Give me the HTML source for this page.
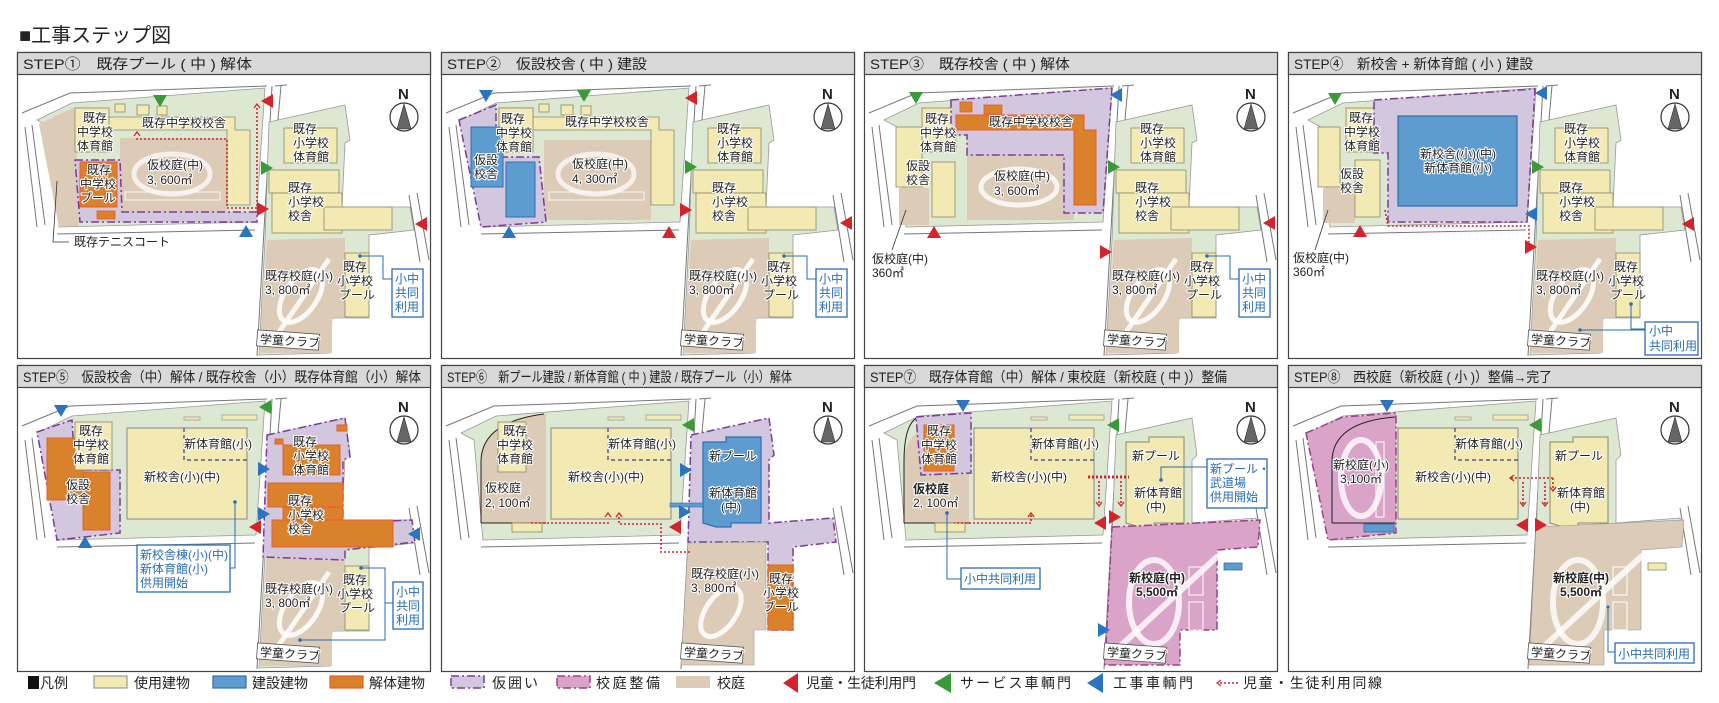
<!DOCTYPE html>
<html><head><meta charset="utf-8">
<style>
html,body{margin:0;padding:0;background:#fff;}
svg{display:block;}
text{font-family:"Liberation Sans","Noto Sans CJK JP",sans-serif;}
.l{font-size:12px;fill:#222;paint-order:stroke;stroke:#fff;stroke-width:2.2px;stroke-linejoin:round;}
.b{font-weight:bold;}
.bx{font-size:12px;fill:#2a6db5;}
.h{font-size:14px;fill:#222;}
.lg{font-size:14px;fill:#222;}
</style></head><body>
<svg width="1719" height="703" viewBox="0 0 1719 703" xmlns="http://www.w3.org/2000/svg">
<defs>
 <g id="roads" fill="none" stroke="#777" stroke-width="1">
  <polyline points="5,39 53,19 250,12"/>
  <polyline points="258,12 270,11"/>
  <polyline points="8,53 20,153"/>
  <polyline points="15,51 28,151"/>
  <polyline points="40,160 238,156"/>
  <polyline points="255,12 240,282"/>
  <polyline points="264,12 250,168"/>
  <polyline points="392,121 403,188"/>
  <polyline points="400,119 412,186"/>
 </g>
 <polygon id="msg" points="20,46 55,29 248,14 239,148 42,153 33,53" fill="#dde8d2" stroke="#999" stroke-width="0.8"/>
 <g id="esg">
  <polygon points="252,48 328,31 333,66 328,69 325,133 393,133 397,156 352,161 352,244 315,244 313,279 242,281 248,166" fill="#dde8d2" stroke="#999" stroke-width="0.8"/>
 </g>
 <g id="esb" fill="#f2e9b3" stroke="#8a8a6a" stroke-width="0.8">
  <rect x="267" y="54" width="53" height="35"/>
  <rect x="252" y="96" width="70" height="23"/>
  <rect x="255" y="119" width="70" height="40"/>
  <rect x="307" y="133" width="68" height="23"/>
 </g>
 <g id="esfield">
  <polygon points="250,166 328,164 328,243 315,243 315,279 242,279" fill="#dccbb7"/>
  <ellipse cx="284" cy="222" rx="16" ry="30" transform="rotate(35 284 222)" fill="none" stroke="#fff" stroke-width="5" opacity="0.85"/>
  <line x1="262" y1="258" x2="312" y2="185" stroke="#fff" stroke-width="5" opacity="0.85"/>
 </g>
 <rect id="espool" x="328" y="179" width="24" height="64" fill="#f2e9b3" stroke="#8a8a6a" stroke-width="0.8"/>
 <g id="club">
  <rect x="240" y="258" width="62" height="16" fill="#fff" stroke="#555" stroke-width="0.8" transform="rotate(4 270 266)"/>
  <text x="243" y="271" class="l" transform="rotate(4 270 266)">学童クラブ</text>
 </g>
 <g id="compass">
  <text x="381" y="25" font-size="15" font-weight="bold" fill="#222">N</text>
  <circle cx="387" cy="43" r="14" fill="#fff" stroke="#333" stroke-width="1.2"/>
  <polygon points="387,30 380,55 394,55" fill="#666" stroke="#333" stroke-width="0.6"/>
 </g>
 <g id="msold" fill="#f2e9b3" stroke="#8a8a6a" stroke-width="0.8">
  <polygon points="90,43 218,43 218,56 233,56 233,131 210,131 210,56 90,56"/>
  <rect x="58" y="34" width="34" height="44"/>
  <rect x="98" y="30" width="10" height="8"/><rect x="120" y="31" width="12" height="10"/><rect x="140" y="32" width="10" height="9"/>
 </g>
 <g id="newb">
  <rect x="110" y="41" width="120" height="91" fill="#f2e9b3" stroke="#888" stroke-width="1"/>
  <polyline points="167,41 167,73 230,73" fill="none" stroke="#3a3f7a" stroke-width="1.2" stroke-dasharray="4,3"/>
  <rect x="167" y="30" width="16" height="3" fill="#f2e9b3" stroke="#888" stroke-width="0.6"/>
  <rect x="205" y="28" width="35" height="5" fill="#f2e9b3" stroke="#888" stroke-width="0.6"/>
 </g>
 <g id="eslabels">
  <text x="276" y="59" class="l">既存</text><text x="276" y="73" class="l">小学校</text><text x="276" y="87" class="l">体育館</text>
  <text x="271" y="118" class="l">既存</text><text x="271" y="132" class="l">小学校</text><text x="271" y="146" class="l">校舎</text>
 </g>
 <g id="esfl">
  <text x="248" y="206" class="l">既存校庭(小)</text><text x="248" y="220" class="l">3, 800㎡</text>
  <text x="326" y="197" class="l">既存</text><text x="320" y="211" class="l">小学校</text><text x="322" y="225" class="l">プール</text>
 </g>
 <g id="boxv">
  <polyline points="343,182 366,182 366,205 375,205" fill="none" stroke="#2a6db5" stroke-width="1"/>
  <circle cx="343" cy="182" r="1.8" fill="#2a6db5"/>
  <rect x="375" y="195" width="31" height="48" fill="#fff" stroke="#2a6db5" stroke-width="1.3"/>
  <text x="378" y="209" class="bx">小中</text><text x="378" y="223" class="bx">共同</text><text x="378" y="237" class="bx">利用</text>
 </g>
 <g id="track">
  <ellipse cx="155" cy="100" rx="38" ry="20" fill="none" stroke="#fff" stroke-width="5" opacity="0.7"/>
  <rect x="108" y="118" width="95" height="8" fill="none" stroke="#fff" stroke-width="1" opacity="0.8"/>
 </g>
</defs>

<text x="19" y="42" font-size="20" fill="#222">■工事ステップ図</text>

<!-- panel frames -->
<g fill="#fff" stroke="#444" stroke-width="1.2">
 <rect x="17.5" y="52.5" width="413" height="306"/><rect x="441.5" y="52.5" width="413" height="306"/>
 <rect x="864.5" y="52.5" width="413" height="306"/><rect x="1288.5" y="52.5" width="413" height="306"/>
 <rect x="17.5" y="365.5" width="413" height="306"/><rect x="441.5" y="365.5" width="413" height="306"/>
 <rect x="864.5" y="365.5" width="413" height="306"/><rect x="1288.5" y="365.5" width="413" height="306"/>
</g>
<g fill="#d9d9d9" stroke="#444" stroke-width="1.2">
 <rect x="17.5" y="52.5" width="413" height="22"/><rect x="441.5" y="52.5" width="413" height="22"/>
 <rect x="864.5" y="52.5" width="413" height="22"/><rect x="1288.5" y="52.5" width="413" height="22"/>
 <rect x="17.5" y="365.5" width="413" height="22"/><rect x="441.5" y="365.5" width="413" height="22"/>
 <rect x="864.5" y="365.5" width="413" height="22"/><rect x="1288.5" y="365.5" width="413" height="22"/>
</g>
<text x="23" y="69" class="h" textLength="229" lengthAdjust="spacingAndGlyphs">STEP①　既存プール ( 中 ) 解体</text>
<text x="447" y="69" class="h" textLength="200" lengthAdjust="spacingAndGlyphs">STEP②　仮設校舎 ( 中 ) 建設</text>
<text x="870" y="69" class="h" textLength="200" lengthAdjust="spacingAndGlyphs">STEP③　既存校舎 ( 中 ) 解体</text>
<text x="1294" y="69" class="h" textLength="239" lengthAdjust="spacingAndGlyphs">STEP④　新校舎 + 新体育館 ( 小 ) 建設</text>
<text x="23" y="382" class="h" textLength="398" lengthAdjust="spacingAndGlyphs">STEP⑤　仮設校舎（中）解体 / 既存校舎（小）既存体育館（小）解体</text>
<text x="447" y="382" class="h" textLength="345" lengthAdjust="spacingAndGlyphs">STEP⑥　新プール建設 / 新体育館 ( 中 ) 建設 / 既存プール（小）解体</text>
<text x="870" y="382" class="h" textLength="357" lengthAdjust="spacingAndGlyphs">STEP⑦　既存体育館（中）解体 / 東校庭（新校庭 ( 中 )）整備</text>
<text x="1294" y="382" class="h" textLength="258" lengthAdjust="spacingAndGlyphs">STEP⑧　西校庭（新校庭 ( 小 )）整備→完了</text>

<!-- ===== STEP 1 ===== -->
<g transform="translate(17,74)">
 <use href="#msg"/>
 <polygon points="22,50 58,33 62,152 42,153" fill="#dccbb7"/>
 <rect x="103" y="64" width="107" height="74" fill="#dccbb7"/>
 <use href="#track"/>
 <use href="#msold"/>
 <polygon points="58,86 103,86 105,138 240,138 240,148 63,148" fill="#d3c6df" stroke="#7d3a97" stroke-width="1.5" stroke-dasharray="8,3,2,3"/>
 <rect x="63" y="88" width="37" height="45" fill="#d9822b" stroke="#e85c2b" stroke-width="1"/>
 <rect x="80" y="137" width="18" height="8" fill="#d9822b" stroke="#e85c2b" stroke-width="0.8"/>
 <polyline points="120,64 120,65 210,65 210,134 240,134 240,32" fill="none" stroke="#d4242b" stroke-width="1.6" stroke-dasharray="2,2"/>
 <polyline points="117,62 120,58 123,62" fill="none" stroke="#d4242b" stroke-width="1.3"/>
 <polyline points="237,34 240,30 243,34" fill="none" stroke="#d4242b" stroke-width="1.3"/>
 <use href="#roads"/><use href="#esg"/><use href="#esb"/><use href="#esfield"/><use href="#espool"/><use href="#club"/><use href="#compass"/>
 <polyline points="40,107 36,168 52,168" fill="none" stroke="#333" stroke-width="0.8"/>
 <text x="57" y="172" class="l">既存テニスコート</text>
 <text x="66" y="48" class="l">既存</text><text x="60" y="62" class="l">中学校</text><text x="60" y="76" class="l">体育館</text>
 <text x="125" y="53" class="l">既存中学校校舎</text>
 <text x="70" y="100" class="l">既存</text><text x="63" y="114" class="l">中学校</text><text x="63" y="128" class="l">プール</text>
 <text x="130" y="95" class="l">仮校庭(中)</text><text x="130" y="110" class="l">3, 600㎡</text>
 <use href="#eslabels"/><use href="#esfl"/><use href="#boxv"/>
 <polygon points="136,21 150,21 143,33" fill="#3a9a3a"/>
 <polygon points="256,20 256,34 244,27" fill="#d4242b"/>
 <polygon points="244,87 244,101 256,94" fill="#3a9a3a"/>
 <polygon points="240,128 240,142 252,135" fill="#d4242b"/>
 <polygon points="222,163 236,163 229,151" fill="#2a74c0"/>
 <polygon points="410,143 410,157 398,150" fill="#d4242b"/>
</g>

<!-- ===== STEP 2 ===== -->
<g transform="translate(441,74)">
 <use href="#msg"/>
 <rect x="103" y="66" width="107" height="80" fill="#dccbb7"/>
 <use href="#track"/>
 <use href="#msold"/>
 <polygon points="18,46 55,31 55,83 98,83 105,148 40,153" fill="#d3c6df" stroke="#7d3a97" stroke-width="1.5" stroke-dasharray="8,3,2,3"/>
 <rect x="58" y="34" width="34" height="44" fill="#f2e9b3" stroke="#8a8a6a" stroke-width="0.8"/>
 <rect x="30" y="53" width="32" height="60" fill="#5e9ccf" stroke="#2f6fb0" stroke-width="1"/>
 <rect x="65" y="88" width="29" height="55" fill="#5e9ccf" stroke="#2f6fb0" stroke-width="1"/>
 <use href="#roads"/><use href="#esg"/><use href="#esb"/><use href="#esfield"/><use href="#espool"/><use href="#club"/><use href="#compass"/>
 <text x="60" y="49" class="l">既存</text><text x="55" y="63" class="l">中学校</text><text x="55" y="77" class="l">体育館</text>
 <text x="124" y="52" class="l">既存中学校校舎</text>
 <text x="33" y="90" class="l">仮設</text><text x="33" y="104" class="l">校舎</text>
 <text x="131" y="94" class="l">仮校庭(中)</text><text x="131" y="109" class="l">4, 300㎡</text>
 <use href="#eslabels"/><use href="#esfl"/><use href="#boxv"/>
 <polygon points="38,16 52,16 45,28" fill="#2a74c0"/>
 <polygon points="136,16 150,16 143,28" fill="#3a9a3a"/>
 <polygon points="256,17 256,31 244,24" fill="#d4242b"/>
 <polygon points="244,86 244,100 256,93" fill="#3a9a3a"/>
 <polygon points="239,129 239,143 251,136" fill="#d4242b"/>
 <polygon points="61,164 75,164 68,152" fill="#2a74c0"/>
 <polygon points="221,164 235,164 228,152" fill="#d4242b"/>
 <polygon points="411,142 411,156 399,149" fill="#d4242b"/>
</g>

<!-- ===== STEP 3 ===== -->
<g transform="translate(864,74)">
 <use href="#msg"/>
 <rect x="103" y="81" width="107" height="65" fill="#dccbb7"/>
 <ellipse cx="155" cy="113" rx="38" ry="18" fill="none" stroke="#fff" stroke-width="5" opacity="0.8"/>
 <rect x="35" y="114" width="30" height="37" fill="#dccbb7"/>
 <rect x="32" y="53" width="26" height="60" fill="#f2e9b3" stroke="#8a8a6a" stroke-width="0.8"/>
 <rect x="68" y="88" width="23" height="55" fill="#f2e9b3" stroke="#8a8a6a" stroke-width="0.8"/>
 <rect x="58" y="34" width="34" height="44" fill="#f2e9b3" stroke="#8a8a6a" stroke-width="0.8"/>
 <polygon points="87,26 248,14 239,139 200,139 200,81 103,81 103,61 87,61" fill="#d3c6df" stroke="#7d3a97" stroke-width="1.5" stroke-dasharray="8,3,2,3"/>
 <polygon points="92,41 220,41 220,56 232,56 232,131 210,131 210,56 92,56" fill="#d9822b" stroke="#e85c2b" stroke-width="1"/>
 <rect x="96" y="28" width="12" height="10" fill="#d9822b" stroke="#e85c2b" stroke-width="0.8"/>
 <rect x="120" y="31" width="18" height="9" fill="#d9822b" stroke="#e85c2b" stroke-width="0.8"/>
 <use href="#roads"/><use href="#esg"/><use href="#esb"/><use href="#esfield"/><use href="#espool"/><use href="#club"/><use href="#compass"/>
 <text x="61" y="49" class="l">既存</text><text x="56" y="63" class="l">中学校</text><text x="56" y="77" class="l">体育館</text>
 <text x="125" y="52" class="l">既存中学校校舎</text>
 <text x="42" y="96" class="l">仮設</text><text x="42" y="110" class="l">校舎</text>
 <text x="130" y="106" class="l">仮校庭(中)</text><text x="130" y="121" class="l">3, 600㎡</text>
 <line x1="42" y1="136" x2="28" y2="176" stroke="#333" stroke-width="0.8"/>
 <text x="8" y="189" class="l">仮校庭(中)</text><text x="8" y="203" class="l">360㎡</text>
 <use href="#eslabels"/><use href="#esfl"/><use href="#boxv"/>
 <polygon points="45,18 59,18 52,30" fill="#3a9a3a"/>
 <polygon points="258,14 258,28 246,21" fill="#2a74c0"/>
 <polygon points="244,86 244,100 256,93" fill="#3a9a3a"/>
 <polygon points="63,164 77,164 70,152" fill="#d4242b"/>
 <polygon points="236,171 236,185 248,178" fill="#d4242b"/>
 <polygon points="411,142 411,156 399,149" fill="#d4242b"/>
</g>

<!-- ===== STEP 4 ===== -->
<g transform="translate(1288,74)">
 <use href="#msg"/>
 <rect x="35" y="114" width="32" height="35" fill="#dccbb7"/>
 <rect x="30" y="53" width="22" height="60" fill="#f2e9b3" stroke="#8a8a6a" stroke-width="0.8"/>
 <rect x="67" y="86" width="25" height="57" fill="#f2e9b3" stroke="#8a8a6a" stroke-width="0.8"/>
 <rect x="58" y="34" width="34" height="44" fill="#f2e9b3" stroke="#8a8a6a" stroke-width="0.8"/>
 <polygon points="86,26 247,15 239,148 100,148 100,79 86,79" fill="#d3c6df" stroke="#7d3a97" stroke-width="1.5" stroke-dasharray="8,3,2,3"/>
 <rect x="110" y="42" width="119" height="90" fill="#5e9ccf" stroke="#2f6fb0" stroke-width="1.2"/>
 <use href="#roads"/><use href="#esg"/><use href="#esb"/><use href="#esfield"/><use href="#espool"/><use href="#club"/><use href="#compass"/>
 <polyline points="97,136 100,152 241,152 241,168" fill="none" stroke="#d4242b" stroke-width="1.6" stroke-dasharray="2,2"/>
 <text x="61" y="48" class="l">既存</text><text x="56" y="62" class="l">中学校</text><text x="56" y="76" class="l">体育館</text>
 <text x="52" y="104" class="l">仮設</text><text x="52" y="118" class="l">校舎</text>
 <text x="170" y="84" class="l" text-anchor="middle">新校舎(小)(中)</text><text x="170" y="98" class="l" text-anchor="middle">新体育館(小)</text>
 <line x1="40" y1="136" x2="27" y2="176" stroke="#333" stroke-width="0.8"/>
 <text x="5" y="188" class="l">仮校庭(中)</text><text x="5" y="202" class="l">360㎡</text>
 <use href="#eslabels"/><use href="#esfl"/>
 <polyline points="343,230 343,255 357,255" fill="none" stroke="#2a6db5" stroke-width="1"/>
 <polyline points="292,256 357,256" fill="none" stroke="#2a6db5" stroke-width="1"/>
 <circle cx="343" cy="230" r="1.8" fill="#2a6db5"/><circle cx="292" cy="256" r="1.8" fill="#2a6db5"/>
 <rect x="357" y="248" width="53" height="33" fill="#fff" stroke="#2a6db5" stroke-width="1.3"/>
 <text x="361" y="261" class="bx">小中</text><text x="361" y="276" class="bx">共同利用</text>
 <polygon points="40,19 54,19 47,31" fill="#3a9a3a"/>
 <polygon points="259,12 259,26 247,19" fill="#2a74c0"/>
 <polygon points="244,86 244,100 256,93" fill="#3a9a3a"/>
 <polygon points="249,133 249,147 237,140" fill="#2a74c0"/>
 <polygon points="65,163 79,163 72,151" fill="#d4242b"/>
 <polygon points="237,166 237,180 249,173" fill="#d4242b"/>
 <polygon points="406,143 406,157 394,150" fill="#d4242b"/>
</g>

<!-- ===== STEP 5 ===== -->
<g transform="translate(17,387)">
 <use href="#msg"/>
 <polygon points="20,45 55,33 58,83 103,83 103,146 40,153" fill="#d3c6df" stroke="#7d3a97" stroke-width="1.5" stroke-dasharray="8,3,2,3"/>
 <rect x="30" y="51" width="36" height="62" fill="#d9822b" stroke="#e85c2b" stroke-width="1"/>
 <rect x="66" y="85" width="27" height="58" fill="#d9822b" stroke="#e85c2b" stroke-width="1"/>
 <rect x="58" y="35" width="37" height="48" fill="#f2e9b3" stroke="#8a8a6a" stroke-width="0.8"/>
 <use href="#newb"/>
 <use href="#roads"/><use href="#esg"/><use href="#esfield"/><use href="#espool"/><use href="#club"/><use href="#compass"/>
 <polygon points="250,48 328,31 333,70 326,73 326,136 395,133 398,155 328,163 328,173 246,170" fill="#d3c6df" stroke="#7d3a97" stroke-width="1.5" stroke-dasharray="8,3,2,3"/>
 <g fill="#d9822b" stroke="#e85c2b" stroke-width="1">
  <rect x="266" y="58" width="57" height="30"/><rect x="251" y="96" width="75" height="24"/>
  <rect x="266" y="120" width="60" height="13"/><rect x="255" y="133" width="121" height="27"/>
  <rect x="320" y="38" width="10" height="6"/><rect x="258" y="52" width="8" height="5"/>
 </g>
 <text x="62" y="48" class="l">既存</text><text x="56" y="62" class="l">中学校</text><text x="56" y="76" class="l">体育館</text>
 <text x="49" y="102" class="l">仮設</text><text x="49" y="116" class="l">校舎</text>
 <text x="167" y="61" class="l">新体育館(小)</text>
 <text x="127" y="94" class="l">新校舎(小)(中)</text>
 <polyline points="218,115 218,181 213,181" fill="none" stroke="#2a6db5" stroke-width="1"/>
 <circle cx="218" cy="115" r="1.8" fill="#2a6db5"/>
 <rect x="120" y="158" width="93" height="47" fill="#fff" stroke="#2a6db5" stroke-width="1.3"/>
 <text x="123" y="172" class="bx">新校舎棟(小)(中)</text><text x="123" y="186" class="bx">新体育館(小)</text><text x="123" y="200" class="bx">供用開始</text>
 <use href="#eslabels"/><use href="#esfl"/>
 <polyline points="344,181 368,181 368,253 283,253" fill="none" stroke="#2a6db5" stroke-width="1"/>
 <line x1="368" y1="216" x2="376" y2="216" stroke="#2a6db5" stroke-width="1"/>
 <circle cx="344" cy="181" r="1.8" fill="#2a6db5"/><circle cx="283" cy="253" r="1.8" fill="#2a6db5"/>
 <rect x="376" y="195" width="30" height="47" fill="#fff" stroke="#2a6db5" stroke-width="1.3"/>
 <text x="379" y="209" class="bx">小中</text><text x="379" y="223" class="bx">共同</text><text x="379" y="237" class="bx">利用</text>
 <polygon points="37,18 51,18 44,30" fill="#2a74c0"/>
 <polygon points="254,13 254,27 242,20" fill="#3a9a3a"/>
 <polygon points="241,75 241,89 253,82" fill="#2a74c0"/>
 <polygon points="241,120 241,134 253,127" fill="#2a74c0"/>
 <polygon points="244,133 244,147 232,140" fill="#d4242b"/>
 <polygon points="61,161 75,161 68,149" fill="#2a74c0"/>
 <polygon points="403,140 403,154 391,147" fill="#2a74c0"/>
</g>

<!-- ===== STEP 6 ===== -->
<g transform="translate(441,387)">
 <use href="#msg"/>
 <path d="M40,136 L40,75 Q40,35 103,27 L105,27 L105,136 Z" fill="#dccbb7"/>
 <path d="M40,136 L40,75 Q40,35 103,27" fill="none" stroke="#222" stroke-width="1"/>
 <line x1="40" y1="136" x2="105" y2="136" stroke="#222" stroke-width="1"/>
 <rect x="57" y="35" width="28" height="50" fill="#f2e9b3" stroke="#8a8a6a" stroke-width="0.8"/>
 <rect x="71" y="136" width="30" height="9" fill="#f2e9b3" stroke="#8a8a6a" stroke-width="0.8"/>
 <use href="#newb"/>
 <use href="#roads"/>
 <polygon points="250,48 328,31 333,68 328,73 328,136 392,131 395,155 352,160 352,243 327,243 327,155 247,155" fill="#d3c6df" stroke="#7d3a97" stroke-width="1.5" stroke-dasharray="8,3,2,3"/>
 <polygon points="247,156 325,155 325,243 313,243 313,278 240,278" fill="#dccbb7" stroke="#999" stroke-width="0.6"/>
 <ellipse cx="280" cy="225" rx="15" ry="28" transform="rotate(35 280 225)" fill="none" stroke="#fff" stroke-width="5" opacity="0.85"/>
 <polygon points="262,55 285,55 285,50 320,50 320,136 290,136 290,140 275,140 262,136" fill="#5e9ccf" stroke="#2f6fb0" stroke-width="1.2"/>
 <rect x="229" y="116" width="33" height="4" fill="#5e9ccf" stroke="#2f6fb0" stroke-width="0.6"/>
 <rect x="327" y="178" width="25" height="65" fill="#d9822b" stroke="#e85c2b" stroke-width="1"/>
 <use href="#club"/><use href="#compass"/>
 <polyline points="90,136 168,136" fill="none" stroke="#d4242b" stroke-width="1.6" stroke-dasharray="2,2"/>
 <polyline points="178,130 178,137 220,137 220,165 250,165" fill="none" stroke="#d4242b" stroke-width="1.6" stroke-dasharray="2,2"/>
 <polyline points="164,130 167,126 170,130" fill="none" stroke="#d4242b" stroke-width="1.3"/>
 <polyline points="175,130 178,126 181,130" fill="none" stroke="#d4242b" stroke-width="1.3"/>
 <text x="62" y="48" class="l">既存</text><text x="56" y="62" class="l">中学校</text><text x="56" y="76" class="l">体育館</text>
 <text x="44" y="105" class="l">仮校庭</text><text x="44" y="120" class="l">2, 100㎡</text>
 <text x="167" y="61" class="l">新体育館(小)</text>
 <text x="127" y="94" class="l">新校舎(小)(中)</text>
 <text x="268" y="73" class="l">新プール</text><text x="268" y="110" class="l">新体育館</text><text x="280" y="124" class="l">(中)</text>
 <text x="250" y="191" class="l">既存校庭(小)</text><text x="250" y="205" class="l">3, 800㎡</text>
 <text x="328" y="196" class="l">既存</text><text x="322" y="210" class="l">小学校</text><text x="322" y="224" class="l">プール</text>
 <polygon points="253,31 253,45 241,38" fill="#3a9a3a"/>
 <polygon points="239,76 239,90 251,83" fill="#2a74c0"/>
 <polygon points="238,118 238,132 250,125" fill="#2a74c0"/>
 <polygon points="240,133 240,147 228,140" fill="#d4242b"/>
</g>

<!-- ===== STEP 7 ===== -->
<g transform="translate(864,387)">
 <use href="#msg"/>
 <path d="M40,136 L40,75 Q40,35 103,27 L105,27 L105,136 Z" fill="#dccbb7"/>
 <path d="M40,136 L40,75 Q40,35 55,30" fill="none" stroke="#222" stroke-width="1"/>
 <line x1="40" y1="136" x2="105" y2="136" stroke="#222" stroke-width="1"/>
 <polygon points="52,30 107,26 107,86 57,88" fill="#d3c6df" stroke="#7d3a97" stroke-width="1.5" stroke-dasharray="8,3,2,3"/>
 <rect x="60" y="38" width="30" height="46" fill="#d9822b" stroke="#e85c2b" stroke-width="1"/>
 <rect x="71" y="136" width="30" height="9" fill="#f2e9b3" stroke="#8a8a6a" stroke-width="0.8"/>
 <use href="#newb"/>
 <use href="#roads"/>
 <polygon points="252,48 328,31 333,68 328,73 328,136 392,131 395,150 248,150" fill="#dde8d2" stroke="#999" stroke-width="0.8"/>
 <polygon points="262,55 285,55 285,50 320,50 320,136 290,136 290,140 275,140 262,136" fill="#f2e9b3" stroke="#8a8a6a" stroke-width="1"/>
 <polygon points="248,140 396,133 394,160 353,163 353,243 316,243 316,278 241,278" fill="#d9a4c8" stroke="#9c3f8e" stroke-width="1.5" stroke-dasharray="8,3,2,3"/>
 <ellipse cx="290" cy="215" rx="25" ry="42" fill="none" stroke="#fff" stroke-width="6" opacity="0.8"/>
 <line x1="250" y1="265" x2="355" y2="168" stroke="#fff" stroke-width="6" opacity="0.8"/>
 <rect x="325" y="180" width="14" height="28" fill="none" stroke="#fff" stroke-width="1"/>
 <rect x="325" y="215" width="14" height="28" fill="none" stroke="#fff" stroke-width="1"/>
 <rect x="360" y="176" width="18" height="7" fill="#5e9ccf" stroke="#2f6fb0" stroke-width="0.8"/>
 <use href="#club"/><use href="#compass"/>
 <line x1="224" y1="90" x2="265" y2="90" stroke="#d4242b" stroke-width="3" stroke-dasharray="2,2"/>
 <polyline points="235,94 235,118" fill="none" stroke="#d4242b" stroke-width="1.6" stroke-dasharray="2,2"/>
 <polyline points="257,94 257,118" fill="none" stroke="#d4242b" stroke-width="1.6" stroke-dasharray="2,2"/>
 <polyline points="232,115 235,119 238,115" fill="none" stroke="#d4242b" stroke-width="1.3"/>
 <polyline points="254,115 257,119 260,115" fill="none" stroke="#d4242b" stroke-width="1.3"/>
 <polyline points="167,128 167,136 90,136" fill="none" stroke="#d4242b" stroke-width="1.6" stroke-dasharray="2,2"/>
 <polyline points="164,130 167,126 170,130" fill="none" stroke="#d4242b" stroke-width="1.3"/>
 <text x="63" y="48" class="l">既存</text><text x="57" y="62" class="l">中学校</text><text x="57" y="76" class="l">体育館</text>
 <text x="49" y="106" class="l b">仮校庭</text><text x="49" y="120" class="l">2, 100㎡</text>
 <text x="167" y="61" class="l">新体育館(小)</text>
 <text x="127" y="94" class="l">新校舎(小)(中)</text>
 <text x="268" y="73" class="l">新プール</text><text x="270" y="110" class="l">新体育館</text><text x="282" y="124" class="l">(中)</text>
 <text x="265" y="195" class="l b">新校庭(中)</text><text x="272" y="209" class="l b">5,500㎡</text>
 <polyline points="297,93 297,80 343,80" fill="none" stroke="#2a6db5" stroke-width="1"/>
 <circle cx="297" cy="93" r="1.8" fill="#2a6db5"/>
 <rect x="343" y="72" width="60" height="49" fill="#fff" stroke="#2a6db5" stroke-width="1.3"/>
 <text x="346" y="86" class="bx">新プール・</text><text x="346" y="100" class="bx">武道場</text><text x="346" y="114" class="bx">供用開始</text>
 <polyline points="83,126 83,192 97,192" fill="none" stroke="#2a6db5" stroke-width="1"/>
 <circle cx="83" cy="126" r="1.8" fill="#2a6db5"/>
 <rect x="97" y="181" width="79" height="21" fill="#fff" stroke="#2a6db5" stroke-width="1.3"/>
 <text x="100" y="196" class="bx">小中共同利用</text>
 <polygon points="92,13 106,13 99,25" fill="#2a74c0"/>
 <polygon points="255,31 255,45 243,38" fill="#3a9a3a"/>
 <polygon points="242,129 242,143 230,136" fill="#d4242b"/>
 <polygon points="245,123 245,137 257,130" fill="#d4242b"/>
 <polygon points="234,236 234,250 246,243" fill="#2a74c0"/>
</g>

<!-- ===== STEP 8 ===== -->
<g transform="translate(1288,387)">
 <use href="#msg"/>
 <polygon points="18,46 55,30 108,26 108,146 40,153" fill="#d9a4c8" stroke="#9c3f8e" stroke-width="1.5" stroke-dasharray="8,3,2,3"/>
 <path d="M44,136 L44,75 Q44,35 107,30" fill="none" stroke="#222" stroke-width="1"/>
 <line x1="44" y1="136" x2="107" y2="136" stroke="#222" stroke-width="1"/>
 <ellipse cx="73" cy="91" rx="20" ry="38" fill="none" stroke="#fff" stroke-width="6" opacity="0.8"/>
 <rect x="88" y="55" width="8" height="75" fill="none" stroke="#fff" stroke-width="1"/>
 <rect x="76" y="137" width="30" height="8" fill="#5e9ccf" stroke="#2f6fb0" stroke-width="0.8"/>
 <use href="#newb"/>
 <use href="#roads"/>
 <polygon points="252,48 328,31 333,68 328,73 328,136 392,131 395,150 248,150" fill="#dde8d2" stroke="#999" stroke-width="0.8"/>
 <polygon points="262,55 285,55 285,50 320,50 320,136 290,136 290,140 275,140 262,136" fill="#f2e9b3" stroke="#8a8a6a" stroke-width="1"/>
 <polygon points="248,140 396,133 394,160 353,163 353,243 316,243 316,278 241,278" fill="#dccbb7" stroke="#999" stroke-width="0.6"/>
 <ellipse cx="290" cy="215" rx="25" ry="42" fill="none" stroke="#fff" stroke-width="6" opacity="0.8"/>
 <line x1="250" y1="265" x2="355" y2="168" stroke="#fff" stroke-width="6" opacity="0.8"/>
 <rect x="325" y="180" width="14" height="28" fill="none" stroke="#fff" stroke-width="1"/>
 <rect x="325" y="215" width="14" height="28" fill="none" stroke="#fff" stroke-width="1"/>
 <rect x="360" y="176" width="18" height="7" fill="#f2e9b3" stroke="#8a8a6a" stroke-width="0.8"/>
 <use href="#club"/><use href="#compass"/>
 <line x1="223" y1="91" x2="265" y2="91" stroke="#d4242b" stroke-width="1.6" stroke-dasharray="2,2"/>
 <polyline points="235,95 235,118" fill="none" stroke="#d4242b" stroke-width="1.6" stroke-dasharray="2,2"/>
 <polyline points="257,95 257,118" fill="none" stroke="#d4242b" stroke-width="1.6" stroke-dasharray="2,2"/>
 <polyline points="265,91 265,102" fill="none" stroke="#d4242b" stroke-width="1.6" stroke-dasharray="2,2"/>
 <polyline points="232,115 235,119 238,115" fill="none" stroke="#d4242b" stroke-width="1.3"/>
 <polyline points="254,115 257,119 260,115" fill="none" stroke="#d4242b" stroke-width="1.3"/>
 <polyline points="262,100 265,104 268,100" fill="none" stroke="#d4242b" stroke-width="1.3"/>
 <polyline points="226,88 222,91 226,94" fill="none" stroke="#d4242b" stroke-width="1.3"/>
 <text x="45" y="82" class="l">新校庭(小)</text><text x="52" y="96" class="l">3,100㎡</text>
 <text x="167" y="61" class="l">新体育館(小)</text>
 <text x="127" y="94" class="l">新校舎(小)(中)</text>
 <text x="267" y="73" class="l">新プール</text><text x="269" y="110" class="l">新体育館</text><text x="282" y="124" class="l">(中)</text>
 <text x="265" y="195" class="l b">新校庭(中)</text><text x="272" y="209" class="l b">5,500㎡</text>
 <polyline points="320,220 320,265 327,265" fill="none" stroke="#2a6db5" stroke-width="1"/>
 <circle cx="320" cy="220" r="1.5" fill="#2a6db5"/>
 <rect x="327" y="256" width="79" height="20" fill="#fff" stroke="#2a6db5" stroke-width="1.3"/>
 <text x="330" y="271" class="bx">小中共同利用</text>
 <polygon points="92,13 106,13 99,25" fill="#2a74c0"/>
 <polygon points="253,31 253,45 241,38" fill="#3a9a3a"/>
 <polygon points="240,131 240,145 228,138" fill="#d4242b"/>
 <polygon points="247,131 247,145 259,138" fill="#d4242b"/>
</g>

<!-- legend -->
<g>
 <rect x="28" y="676" width="11" height="13" fill="#111"/>
 <text x="40" y="688" class="lg">凡例</text>
 <rect x="94" y="676" width="33" height="12" fill="#f2e9b3" stroke="#999" stroke-width="1.2"/>
 <text x="134" y="688" class="lg" textLength="56">使用建物</text>
 <rect x="213" y="676" width="33" height="12" fill="#5e9ccf" stroke="#2f6fb0" stroke-width="1.2"/>
 <text x="252" y="688" class="lg" textLength="56">建設建物</text>
 <rect x="330" y="676" width="33" height="12" fill="#d9822b" stroke="#e85c2b" stroke-width="1.2"/>
 <text x="369" y="688" class="lg" textLength="56">解体建物</text>
 <rect x="451" y="676" width="33" height="12" fill="#d3c6df" stroke="#7d3a97" stroke-width="1.5" stroke-dasharray="8,3,2,3"/>
 <text x="492" y="688" class="lg" textLength="46">仮囲い</text>
 <rect x="557" y="676" width="33" height="12" fill="#d9a4c8" stroke="#9c3f8e" stroke-width="1.5" stroke-dasharray="8,3,2,3"/>
 <text x="596" y="688" class="lg" textLength="64">校庭整備</text>
 <rect x="676" y="676" width="34" height="12" fill="#dccbb7"/>
 <text x="717" y="688" class="lg">校庭</text>
 <polygon points="798,673 798,693 783,683" fill="#d4242b"/>
 <text x="806" y="688" class="lg" textLength="110">児童・生徒利用門</text>
 <polygon points="951,673 951,693 934,683" fill="#3a9a3a"/>
 <text x="960" y="688" class="lg" textLength="111">サービス車輌門</text>
 <polygon points="1103,673 1103,693 1087,683" fill="#2a74c0"/>
 <text x="1113" y="688" class="lg" textLength="80">工事車輌門</text>
 <line x1="1220" y1="683" x2="1240" y2="683" stroke="#d4242b" stroke-width="1.6" stroke-dasharray="2,2"/>
 <polyline points="1221,680 1217,683 1221,686" fill="none" stroke="#d4242b" stroke-width="1.2"/>
 <text x="1243" y="688" class="lg" textLength="139">児童・生徒利用同線</text>
</g>
</svg>
</body></html>
